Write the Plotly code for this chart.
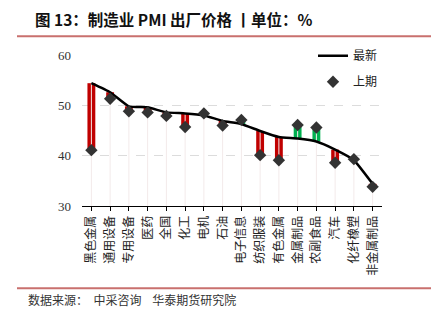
import plotly.graph_objects as go

categories = ["黑色金属", "通用设备", "专用设备", "医药", "全国", "化工", "电机", "石油",
              "电子信息", "纺织服装", "有色金属", "金属制品", "农副食品", "汽车", "化纤橡塑", "非金属制品"]
latest = [54.4, 52.6, 49.8, 49.6, 48.6, 48.4, 48.0, 46.9, 46.3, 44.9, 43.7, 43.4, 42.8, 41.2, 39.1, 34.4]
previous = [41.1, 51.3, 48.8, 48.6, 47.9, 45.7, 48.4, 46.0, 47.1, 40.1, 39.1, 46.1, 45.6, 38.6, 39.3, 33.8]

W, H = 431, 321
L, R, T, B = 82, 382, 54.7, 205.7
def px(x): return (x - L) / (R - L)
def py(y): return (B - y) / (B - T)

x = list(range(len(categories)))

fig = go.Figure()

# faint vertical drop lines
dx, dy = [], []
for i, v in enumerate(latest):
    dx += [i, i, None]
    dy += [30, max(v, previous[i]), None]
fig.add_trace(go.Scatter(x=dx, y=dy, mode="lines", line=dict(color="#f3eaea", width=1),
                         showlegend=False, hoverinfo="skip"))

# change bars
colors = ["#C00000" if p < l else "#00B050" for l, p in zip(latest, previous)]
fig.add_trace(go.Bar(x=x, y=[p - l for l, p in zip(latest, previous)], base=latest,
                     marker=dict(color=colors, line=dict(width=0)), width=0.42,
                     showlegend=False, hoverinfo="skip"))

fig.add_trace(go.Scatter(x=x, y=latest, mode="lines", name="最新", legendgroup="a",
                         line=dict(color="black", width=2.5, shape="spline", smoothing=0.4)))
fig.add_trace(go.Scatter(x=x, y=previous, mode="markers", name="上期", legendgroup="b",
                         marker=dict(symbol="diamond", color="#333333", size=9.5)))

fig.update_layout(
    width=W, height=H, margin=dict(l=L, r=W - R, t=T, b=H - B),
    plot_bgcolor="white", paper_bgcolor="white",
    font=dict(family="Noto Sans CJK SC", color="#222"),
    xaxis=dict(tickmode="array", tickvals=x, ticktext=categories, range=[-0.5, 15.5],
               showgrid=False, showline=True, linecolor="black", linewidth=1,
               ticks="outside", ticklen=4, tickcolor="black", tickson="boundaries",
               tickfont=dict(size=12, family="Noto Sans CJK SC", color="#222"), tickangle=-90,
               zeroline=False),
    yaxis=dict(range=[30, 60], tickvals=[30, 40, 50, 60], showgrid=True, gridcolor="#dcdcdc",
               griddash="dash", gridwidth=1, zeroline=False, showline=False,
               tickfont=dict(size=13, family="Liberation Serif", color="#333"), ticks="", ticklen=0,
               ticklabelstandoff=10),
    legend=dict(x=px(313), y=py(41), xanchor="left", yanchor="top", bgcolor="rgba(0,0,0,0)",
                font=dict(size=12, family="Noto Sans CJK SC", color="#222"),
                itemwidth=30, traceorder="grouped", tracegroupgap=7),
)

fig.add_annotation(x=px(33), y=py(19), xref="paper", yref="paper", xanchor="left", yanchor="middle",
                   text="<b>图 13：制造业 PMI 出厂价格 丨单位：%</b>", showarrow=False,
                   font=dict(size=15.5, family="Noto Sans CJK SC", color="#111"))
fig.add_annotation(x=px(26), y=py(299), xref="paper", yref="paper", xanchor="left", yanchor="middle",
                   text="数据来源：  中采咨询    华泰期货研究院", showarrow=False,
                   font=dict(size=12, family="Noto Sans CJK SC", color="#333"))
fig.add_shape(type="line", xref="paper", yref="paper", x0=px(17), x1=px(431), y0=py(36), y1=py(36),
              line=dict(color="#C9706E", width=2))
fig.add_shape(type="line", xref="paper", yref="paper", x0=px(17), x1=px(431), y0=py(288), y1=py(288),
              line=dict(color="#C9706E", width=2))

fig.write_html("out.html")
